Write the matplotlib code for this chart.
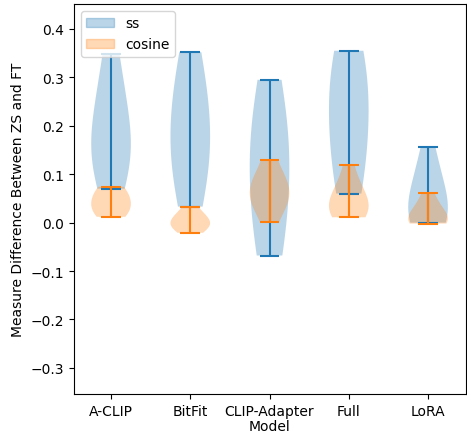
import matplotlib
matplotlib.use("Agg")
import matplotlib.pyplot as plt
import matplotlib.patches as mpatches

models = ["A-CLIP", "BitFit", "CLIP-Adapter", "Full", "LoRA"]

# per-model differences (ZS vs FT)
ss_aclip = [0.07, 0.09, 0.11, 0.12, 0.13, 0.14, 0.15, 0.16, 0.17, 0.19, 0.21, 0.24, 0.27, 0.30, 0.33, 0.348]
ss_bitfit = [0.033, 0.05, 0.08, 0.11, 0.13, 0.15, 0.17, 0.19, 0.21, 0.24, 0.27, 0.30, 0.33, 0.352]
ss_adapter = [-0.068, -0.06, -0.04, -0.01, 0.02, 0.06, 0.09, 0.12, 0.14, 0.16, 0.18, 0.21, 0.24, 0.27, 0.295]
ss_full = [0.06, 0.07, 0.09, 0.12, 0.15, 0.18, 0.21, 0.24, 0.27, 0.29, 0.31, 0.33, 0.345, 0.355]
ss_lora = [0.0, 0.0, 0.003, 0.008, 0.015, 0.025, 0.04, 0.06, 0.08, 0.10, 0.125, 0.157]

cos_aclip = [0.012, 0.018, 0.024, 0.03, 0.04, 0.05, 0.06, 0.068, 0.074]
cos_bitfit = [-0.021, -0.012, -0.008, -0.004, 0.0, 0.004, 0.01, 0.02, 0.033]
cos_adapter = [0.002, 0.035, 0.05, 0.06, 0.065, 0.075, 0.09, 0.13]
cos_full = [0.011, 0.016, 0.021, 0.026, 0.032, 0.04, 0.05, 0.065, 0.085, 0.118]
cos_lora = [-0.002, -0.001, 0.0, 0.002, 0.005, 0.01, 0.018, 0.03, 0.045, 0.062]

ss = [ss_aclip, ss_bitfit, ss_adapter, ss_full, ss_lora]
cosine = [cos_aclip, cos_bitfit, cos_adapter, cos_full, cos_lora]

fig = plt.figure(figsize=(4.67, 4.35), dpi=100)
ax = fig.add_axes([0.158, 0.092, 0.84, 0.897])

pos = list(range(1, len(models) + 1))
v1 = ax.violinplot(ss, positions=pos, bw_method=1.0)
v2 = ax.violinplot(cosine, positions=pos, bw_method=1.0)

for v, c in [(v1, "C0"), (v2, "C1")]:
    for b in v["bodies"]:
        b.set_facecolor(c)
        b.set_linewidth(0)
        b.set_alpha(0.3)
    for k in ["cmaxes", "cmins", "cbars"]:
        v[k].set_color(c)

handles = [mpatches.Patch(color="C0", alpha=0.3, label="ss"),
           mpatches.Patch(color="C1", alpha=0.3, label="cosine")]
ax.legend(handles=handles, loc="upper left")

ax.set_xticks(pos)
ax.set_xticklabels(models)
ax.set_xlim(0.53, 5.48)
ax.set_ylim(-0.354, 0.452)
ax.set_xlabel("Model", labelpad=1)
ax.set_ylabel("Measure Difference Between ZS and FT")

fig.savefig("out.png", dpi=100)
